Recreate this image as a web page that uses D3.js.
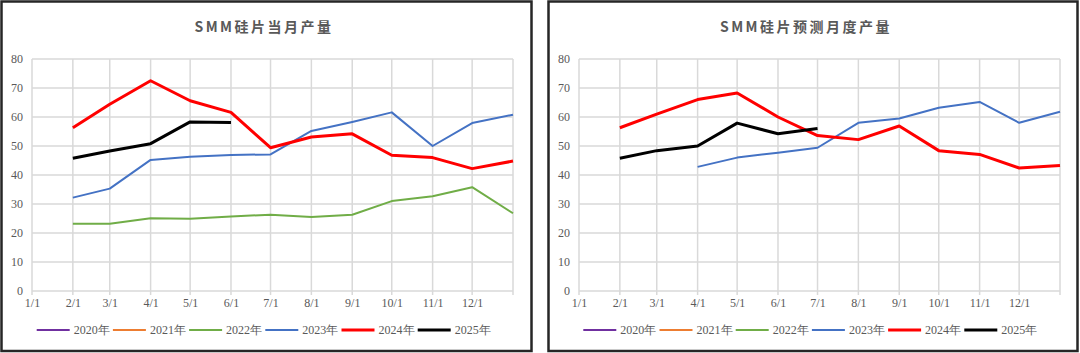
<!DOCTYPE html>
<html><head><meta charset="utf-8">
<script src="https://cdn.jsdelivr.net/npm/d3@7"></script>
<style>
html,body{margin:0;padding:0;background:#fff;}
svg{display:block;}
.lbl{font-family:"Liberation Serif","DejaVu Serif","Times New Roman",serif;font-size:12px;}
</style></head>
<body>
<svg id="c" width="1080" height="353"></svg>
<script>
// ---- data ----
const xTickLabels = ["1/1","2/1","3/1","4/1","5/1","6/1","7/1","8/1","9/1","10/1","11/1","12/1"];
const yTicks = [0,10,20,30,40,50,60,70,80];
// point months (13 = 1/1 of next year, right edge)
const pointMonths = [2,3,4,5,6,7,8,9,10,11,12,13];
const seriesNames = ["2020年","2021年","2022年","2023年","2024年","2025年"];
const seriesColors = ["#7030A0","#ED7D31","#70AD47","#4472C4","#FF0000","#000000"];
const seriesWidths = [2,2,2,2,3,3];

// Chart 1: SMM硅片当月产量
const title1 = "SMM硅片当月产量";
const c1_2020 = [null,null,null,null,null,null,null,null,null,null,null,null];
const c1_2021 = [null,null,null,null,null,null,null,null,null,null,null,null];
const c1_2022 = [23.2,23.2,25.1,24.9,25.7,26.3,25.5,26.3,31.0,32.7,35.8,26.8];
const c1_2023 = [32.2,35.3,45.2,46.3,46.9,47.1,55.2,58.3,61.6,50.0,57.9,60.8];
const c1_2024 = [56.3,64.4,72.5,65.6,61.6,49.4,53.1,54.2,46.8,46.0,42.2,44.8];
const c1_2025 = [45.8,48.3,50.8,58.3,58.1,null,null,null,null,null,null,null];

// Chart 2: SMM硅片预测月度产量
const title2 = "SMM硅片预测月度产量";
const c2_2020 = [null,null,null,null,null,null,null,null,null,null,null,null];
const c2_2021 = [null,null,null,null,null,null,null,null,null,null,null,null];
const c2_2022 = [null,null,null,null,null,null,null,null,null,null,null,null];
const c2_2023 = [null,null,42.8,46.0,47.7,49.4,58.0,59.5,63.2,65.2,58.0,61.8];
const c2_2024 = [56.3,61.0,66.0,68.3,60.0,53.6,52.2,56.9,48.4,47.1,42.4,43.3];
const c2_2025 = [45.8,48.4,50.0,57.9,54.2,56.0,null,null,null,null,null,null];

const svg = d3.select("#c");
const TXT = "#595959";
const GRID = "#D9D9D9";

function drawPanel(opt, title, data){
  const g = svg.append("g");
  g.append("rect").attr("x",opt.bx).attr("y",1.5).attr("width",opt.bw).attr("height",349.5)
    .attr("fill","#fff").attr("stroke","#262626").attr("stroke-width",2.5);
  g.append("text").attr("x",opt.titleX).attr("y",26).attr("text-anchor","middle")
    .attr("dominant-baseline","central")
    .style("font-family","'Noto Sans CJK SC','Noto Sans',sans-serif")
    .style("font-size","14px").style("font-weight","bold").style("letter-spacing","2.5px")
    .attr("fill",TXT).text(title);

  const x = d3.scaleTime().domain([new Date(2025,0,1), new Date(2026,0,1)]).range([opt.x0, opt.x1]);
  const y = d3.scaleLinear().domain([0,80]).range([291,59]);
  const tickDates = xTickLabels.map((s,i)=>new Date(2025,i,1)).concat([new Date(2026,0,1)]);

  g.append("g").selectAll("line").data(yTicks).join("line")
    .attr("x1",opt.x0).attr("x2",opt.x1).attr("y1",d=>y(d)).attr("y2",d=>y(d))
    .attr("stroke",GRID).attr("stroke-width",1.5);
  g.append("g").selectAll("line").data(tickDates).join("line")
    .attr("x1",d=>x(d)).attr("x2",d=>x(d)).attr("y1",y(80)).attr("y2",y(0)+4)
    .attr("stroke",GRID).attr("stroke-width",1.5);

  const ya = g.append("g").attr("transform",`translate(${opt.x0},0)`)
    .call(d3.axisLeft(y).tickValues(yTicks).tickSize(0).tickPadding(9));
  ya.attr("font-family",null).attr("font-size",null);
  ya.select(".domain").remove();
  ya.selectAll("text").attr("class","lbl").attr("fill",TXT);

  const xa = g.append("g").attr("transform",`translate(0,${y(0)})`)
    .call(d3.axisBottom(x).tickValues(tickDates.slice(0,12)).tickSize(0).tickPadding(7)
      .tickFormat((d,i)=>xTickLabels[i]));
  xa.attr("font-family",null).attr("font-size",null);
  xa.select(".domain").remove();
  xa.selectAll("text").attr("class","lbl").attr("fill",TXT);

  const line = d3.line().defined(d=>d.v!=null).x(d=>x(d.d)).y(d=>y(d.v));
  data.forEach((arr,si)=>{
    const pts = arr.map((v,i)=>({d:new Date(2025,pointMonths[i]-1,1), v}));
    if(pts.every(p=>p.v==null)) return;
    g.append("path").datum(pts).attr("d",line).attr("fill","none")
      .attr("stroke",seriesColors[si]).attr("stroke-width",seriesWidths[si])
      .attr("stroke-linejoin","round");
  });

  const lg = g.append("g");
  seriesNames.forEach((n,i)=>{
    const lx = opt.legX + i*76.2;
    lg.append("line").attr("x1",lx).attr("x2",lx+33).attr("y1",330).attr("y2",330)
      .attr("stroke",seriesColors[i]).attr("stroke-width",seriesWidths[i]);
    lg.append("text").attr("class","lbl").attr("x",lx+37).attr("y",330).attr("dominant-baseline","central")
      .attr("fill",TXT).text(n);
  });
}

drawPanel({bx:1.5,bw:530,x0:32,x1:513,titleX:264,legX:36.7}, title1,
  [c1_2020,c1_2021,c1_2022,c1_2023,c1_2024,c1_2025]);
drawPanel({bx:548.5,bw:529,x0:579,x1:1060,titleX:806,legX:583.3}, title2,
  [c2_2020,c2_2021,c2_2022,c2_2023,c2_2024,c2_2025]);
</script>
</body></html>
